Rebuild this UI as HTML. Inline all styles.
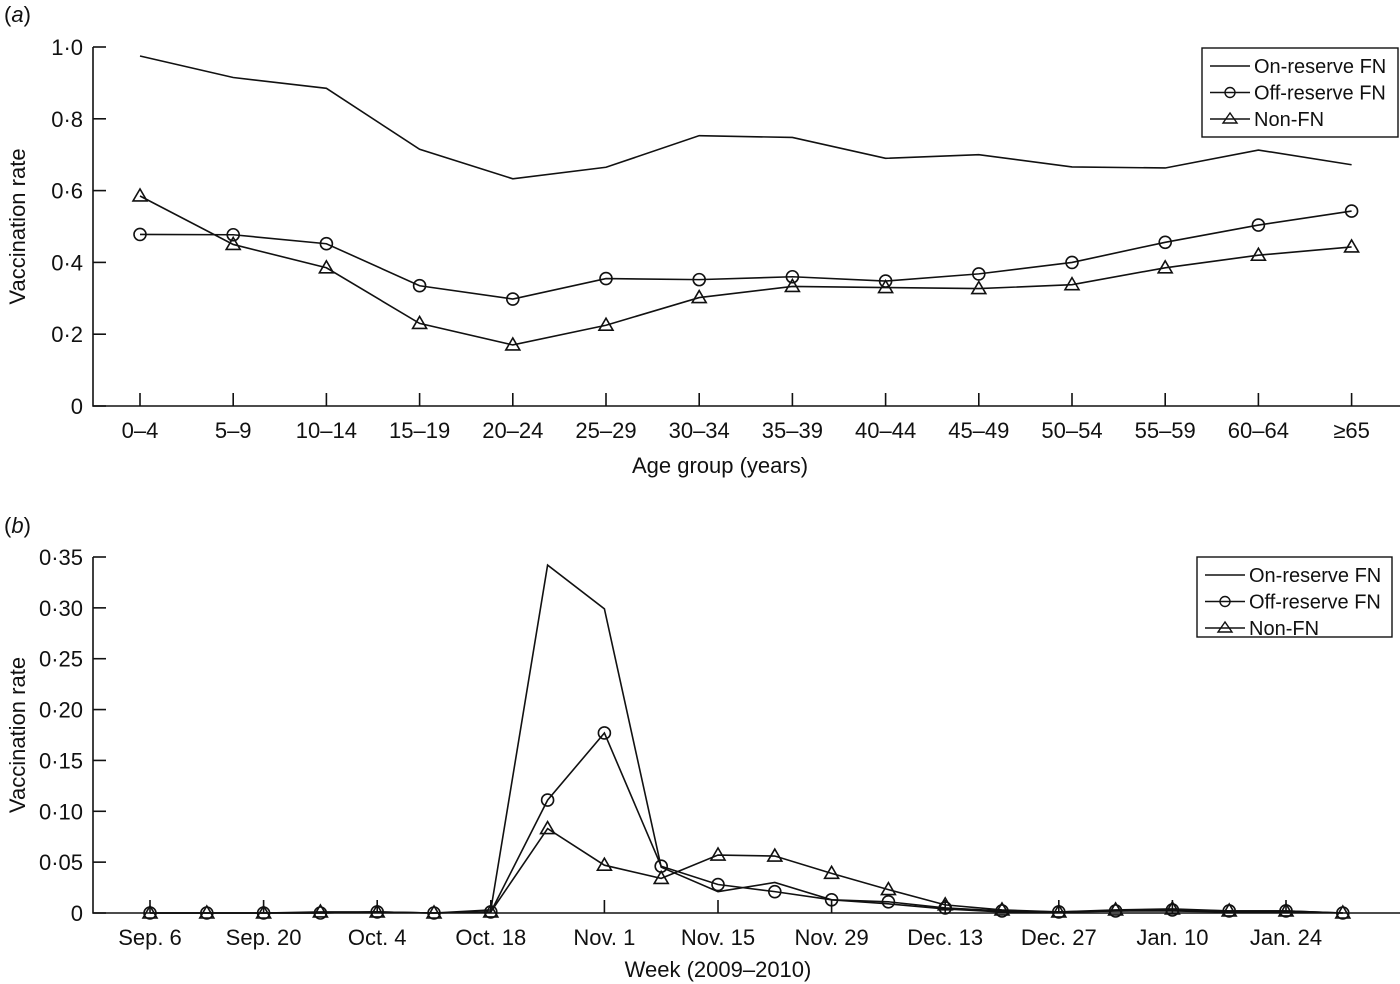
<!DOCTYPE html>
<html><head><meta charset="utf-8"><style>
html,body{margin:0;padding:0;background:#fff}
svg{display:block}
text{font-family:"Liberation Sans",Arial,sans-serif;fill:#111}
</style></head><body>
<svg id="chart" width="1400" height="984" viewBox="0 0 1400 984" xmlns="http://www.w3.org/2000/svg">
<g id="pa"></g>
<g id="pb"></g>
</svg>
<script>
const ageGroups = ["0–4","5–9","10–14","15–19","20–24","25–29","30–34","35–39","40–44","45–49","50–54","55–59","60–64","≥65"];
const ageOnReserve = [0.975,0.915,0.885,0.715,0.633,0.665,0.753,0.748,0.69,0.70,0.666,0.663,0.713,0.672];
const ageOffReserve = [0.478,0.477,0.452,0.335,0.298,0.355,0.352,0.36,0.348,0.368,0.40,0.456,0.504,0.543];
const ageNonFN = [0.585,0.45,0.385,0.23,0.17,0.225,0.302,0.333,0.33,0.327,0.338,0.385,0.42,0.443];
const ageYTicks = [0,0.2,0.4,0.6,0.8,1.0];
const ageYLabels = ["0","0·2","0·4","0·6","0·8","1·0"];

const weekLabels = ["Sep. 6","Sep. 20","Oct. 4","Oct. 18","Nov. 1","Nov. 15","Nov. 29","Dec. 13","Dec. 27","Jan. 10","Jan. 24"];
const weekOnReserve = [0,0,0,0,0.001,0,0.003,0.342,0.299,0.045,0.021,0.030,0.013,0.009,0.004,0.001,0.001,0.002,0.002,0.001,0.001,0];
const weekOffReserve = [0,0,0,0,0.001,0,0.001,0.111,0.177,0.046,0.028,0.021,0.013,0.011,0.005,0.002,0.001,0.002,0.003,0.002,0.002,0];
const weekNonFN = [0,0,0,0.001,0.001,0,0.001,0.083,0.047,0.034,0.057,0.056,0.039,0.023,0.008,0.003,0.001,0.003,0.004,0.002,0.002,0];
const weekYTicks = [0,0.05,0.10,0.15,0.20,0.25,0.30,0.35];
const weekYLabels = ["0","0·05","0·10","0·15","0·20","0·25","0·30","0·35"];

const NS="http://www.w3.org/2000/svg";
function mk(parent,tag,attrs,txt){const e=document.createElementNS(NS,tag);for(const k in attrs)e.setAttribute(k,attrs[k]);if(txt!==undefined)e.textContent=txt;parent.appendChild(e);return e;}

function marker(g,type,x,y){
  if(type==="circle"){const c=mk(g,"circle",{cx:x,cy:y,r:6,fill:"none",stroke:"#111","stroke-width":1.6});
    
    }
  else if(type==="tri"){const p=mk(g,"polygon",{points:`${x},${y-7} ${x-7},${y+5} ${x+7},${y+5}`,fill:"none",stroke:"#111","stroke-width":1.6});
    
    }
}

function panel(g,o){
  const xs=i=>o.x0+o.dx*i;
  const ys=v=>o.yb-(v/o.ymax)*(o.yb-o.yt);
  // panel letter
  const pl=mk(g,"text",{x:4,y:o.letterY,"font-size":22},"");
  pl.innerHTML='(<tspan font-style="italic">'+o.letter+'</tspan>)';
  
  
  // axes
  const ax=mk(g,"path",{d:`M${o.axL},${o.yt} L${o.axL},${o.yb} L1400,${o.yb}`,fill:"none",stroke:"#111","stroke-width":1.6});
  
  
  o.yTicks.forEach((v,i)=>{
    const y=ys(v);
    const t=mk(g,"line",{x1:o.axL,x2:o.axL+13,y1:y,y2:y,stroke:"#111","stroke-width":1.6});
    
    
    const l=mk(g,"text",{x:o.axL-10,y:y+8,"font-size":22,"text-anchor":"end"},o.yLabels[i]);
    
    
  });
  o.xLabels.forEach((s,i)=>{
    const x=xs(i*o.labelStep);
    const t=mk(g,"line",{x1:x,x2:x,y1:o.yb,y2:o.yb-13,stroke:"#111","stroke-width":1.6});
    
    
    const l=mk(g,"text",{x:x,y:o.yb+32,"font-size":22,"text-anchor":"middle"},s);
    
    
  });
  const xt=mk(g,"text",{x:o.xTitleX,y:o.xTitleY,"font-size":22,"text-anchor":"middle"},o.xTitle);
  
  
  const cy=(o.yt+o.yb)/2;
  const yt=mk(g,"text",{x:0,y:0,"font-size":22,"text-anchor":"middle",transform:`translate(25,${cy}) rotate(-90)`},"Vaccination rate");
  
  
  const series=[[o.on,"none","series-on-reserve-fn"],[o.off,"circle","series-off-reserve-fn"],[o.non,"tri","series-non-fn"]];
  series.forEach(([vals,m,name])=>{
    const sg=mk(g,"g",{});
    
    
    const pts=vals.map((v,i)=>xs(i)+","+ys(v)).join(" ");
    mk(sg,"polyline",{points:pts,fill:"none",stroke:"#111","stroke-width":1.6});
    if(m!=="none") vals.forEach((v,i)=>marker(sg,m,xs(i),ys(v)));
  });
  // legend
  const L=o.leg;
  const lg=mk(g,"g",{});
  
  
  mk(lg,"rect",{x:L.x,y:L.y,width:L.w,height:L.h,fill:"#fff",stroke:"#111","stroke-width":1.4});
  const names=["On-reserve FN","Off-reserve FN","Non-FN"],mks=["none","circle","tri"];
  names.forEach((n,i)=>{
    const ey=L.y+18+i*26.5;
    const eg=mk(lg,"g",{});
    
    
    mk(eg,"line",{x1:L.x+8,x2:L.x+48,y1:ey,y2:ey,stroke:"#111","stroke-width":1.4});
    if(mks[i]==="circle"){mk(eg,"circle",{cx:L.x+28,cy:ey,r:5,fill:"none",stroke:"#111","stroke-width":1.4});}
    if(mks[i]==="tri"){mk(eg,"polygon",{points:`${L.x+28},${ey-6} ${L.x+21},${ey+4} ${L.x+35},${ey+4}`,fill:"none",stroke:"#111","stroke-width":1.4});}
    mk(eg,"text",{x:L.x+52,y:ey+7,"font-size":20},n);
  });
}

panel(document.getElementById("pa"),{letter:"a",letterY:22,axL:93,yt:47,yb:406,ymax:1.0,x0:140,dx:93.2,labelStep:1,
  yTicks:ageYTicks,yLabels:ageYLabels,xLabels:ageGroups,xTitle:"Age group (years)",xTitleX:720,xTitleY:473,
  on:ageOnReserve,off:ageOffReserve,non:ageNonFN,leg:{x:1202,y:48,w:196,h:89}});
panel(document.getElementById("pb"),{letter:"b",letterY:533,axL:93,yt:557,yb:913,ymax:0.35,x0:150,dx:56.8,labelStep:2,
  yTicks:weekYTicks,yLabels:weekYLabels,xLabels:weekLabels,xTitle:"Week (2009–2010)",xTitleX:718,xTitleY:977,
  on:weekOnReserve,off:weekOffReserve,non:weekNonFN,leg:{x:1197,y:557,w:195,h:80}});
</script>
</body></html>
